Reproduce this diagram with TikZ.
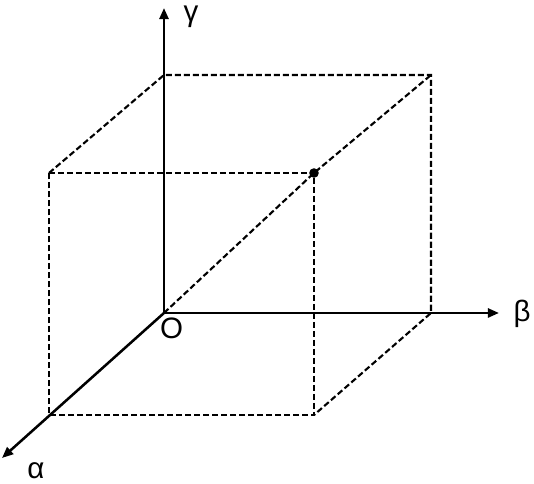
\documentclass[tikz,border=0pt]{standalone}
\usepackage{fontspec}
\setmainfont{Liberation Sans}
\usepackage{tikz}
\usetikzlibrary{
    arrows.meta,
    calc,
    positioning
}

\begin{document}
\begin{tikzpicture}[
        axis/.style={line width=1.8pt, -{Triangle[length=8pt,width=6.5pt]}},
        edge/.style={line width=1.5pt, dash pattern=on 4.3pt off 2.1pt},
        lbl/.style={inner sep=0pt, font=\fontsize{21}{25}\selectfont}
    ]
    \useasboundingbox (-4.1, -4.275) rectangle (9.25, 7.825);
    % corners of the box
    \coordinate (O) at (0, 0);
    \coordinate (bTL) at (0, 5.95);
    \coordinate (bTR) at (6.675, 5.95);
    \coordinate (bBR) at (6.675, 0);
    \coordinate (fTL) at (-2.875, 3.5);
    \coordinate (fTR) at (3.75, 3.5);
    \coordinate (fBL) at (-2.875, -2.55);
    \coordinate (fBR) at (3.75, -2.55);
    % axis ends
    \coordinate (gammaEnd) at (0, 7.625);
    \coordinate (betaEnd) at (8.375, 0);
    \coordinate (alphaEnd) at (-4.05, -3.625);

    \draw[edge] (fTL) -- (fTR) -- (fBR) -- (fBL) -- cycle;
    \draw[edge] (fTL) -- (bTL) -- (bTR) -- (bBR) -- (fBR);
    \draw[edge] (O) -- (fTR) -- (bTR);

    \draw[axis] (O) -- (gammaEnd);
    \draw[axis] (O) -- (betaEnd);
    \draw[axis] (O) -- (alphaEnd);

    \fill (fTR) circle (0.12);

    \node[lbl] (gammaLbl) at (0.675, 7.4) {γ};
    \node[lbl] (betaLbl) at (8.95, -0.01) {β};
    \node[lbl] (alphaLbl) at (-3.2, -3.95) {α};
    \node[lbl] (originLbl) at (0.19, -0.375) {O};
\end{tikzpicture}
\end{document}
